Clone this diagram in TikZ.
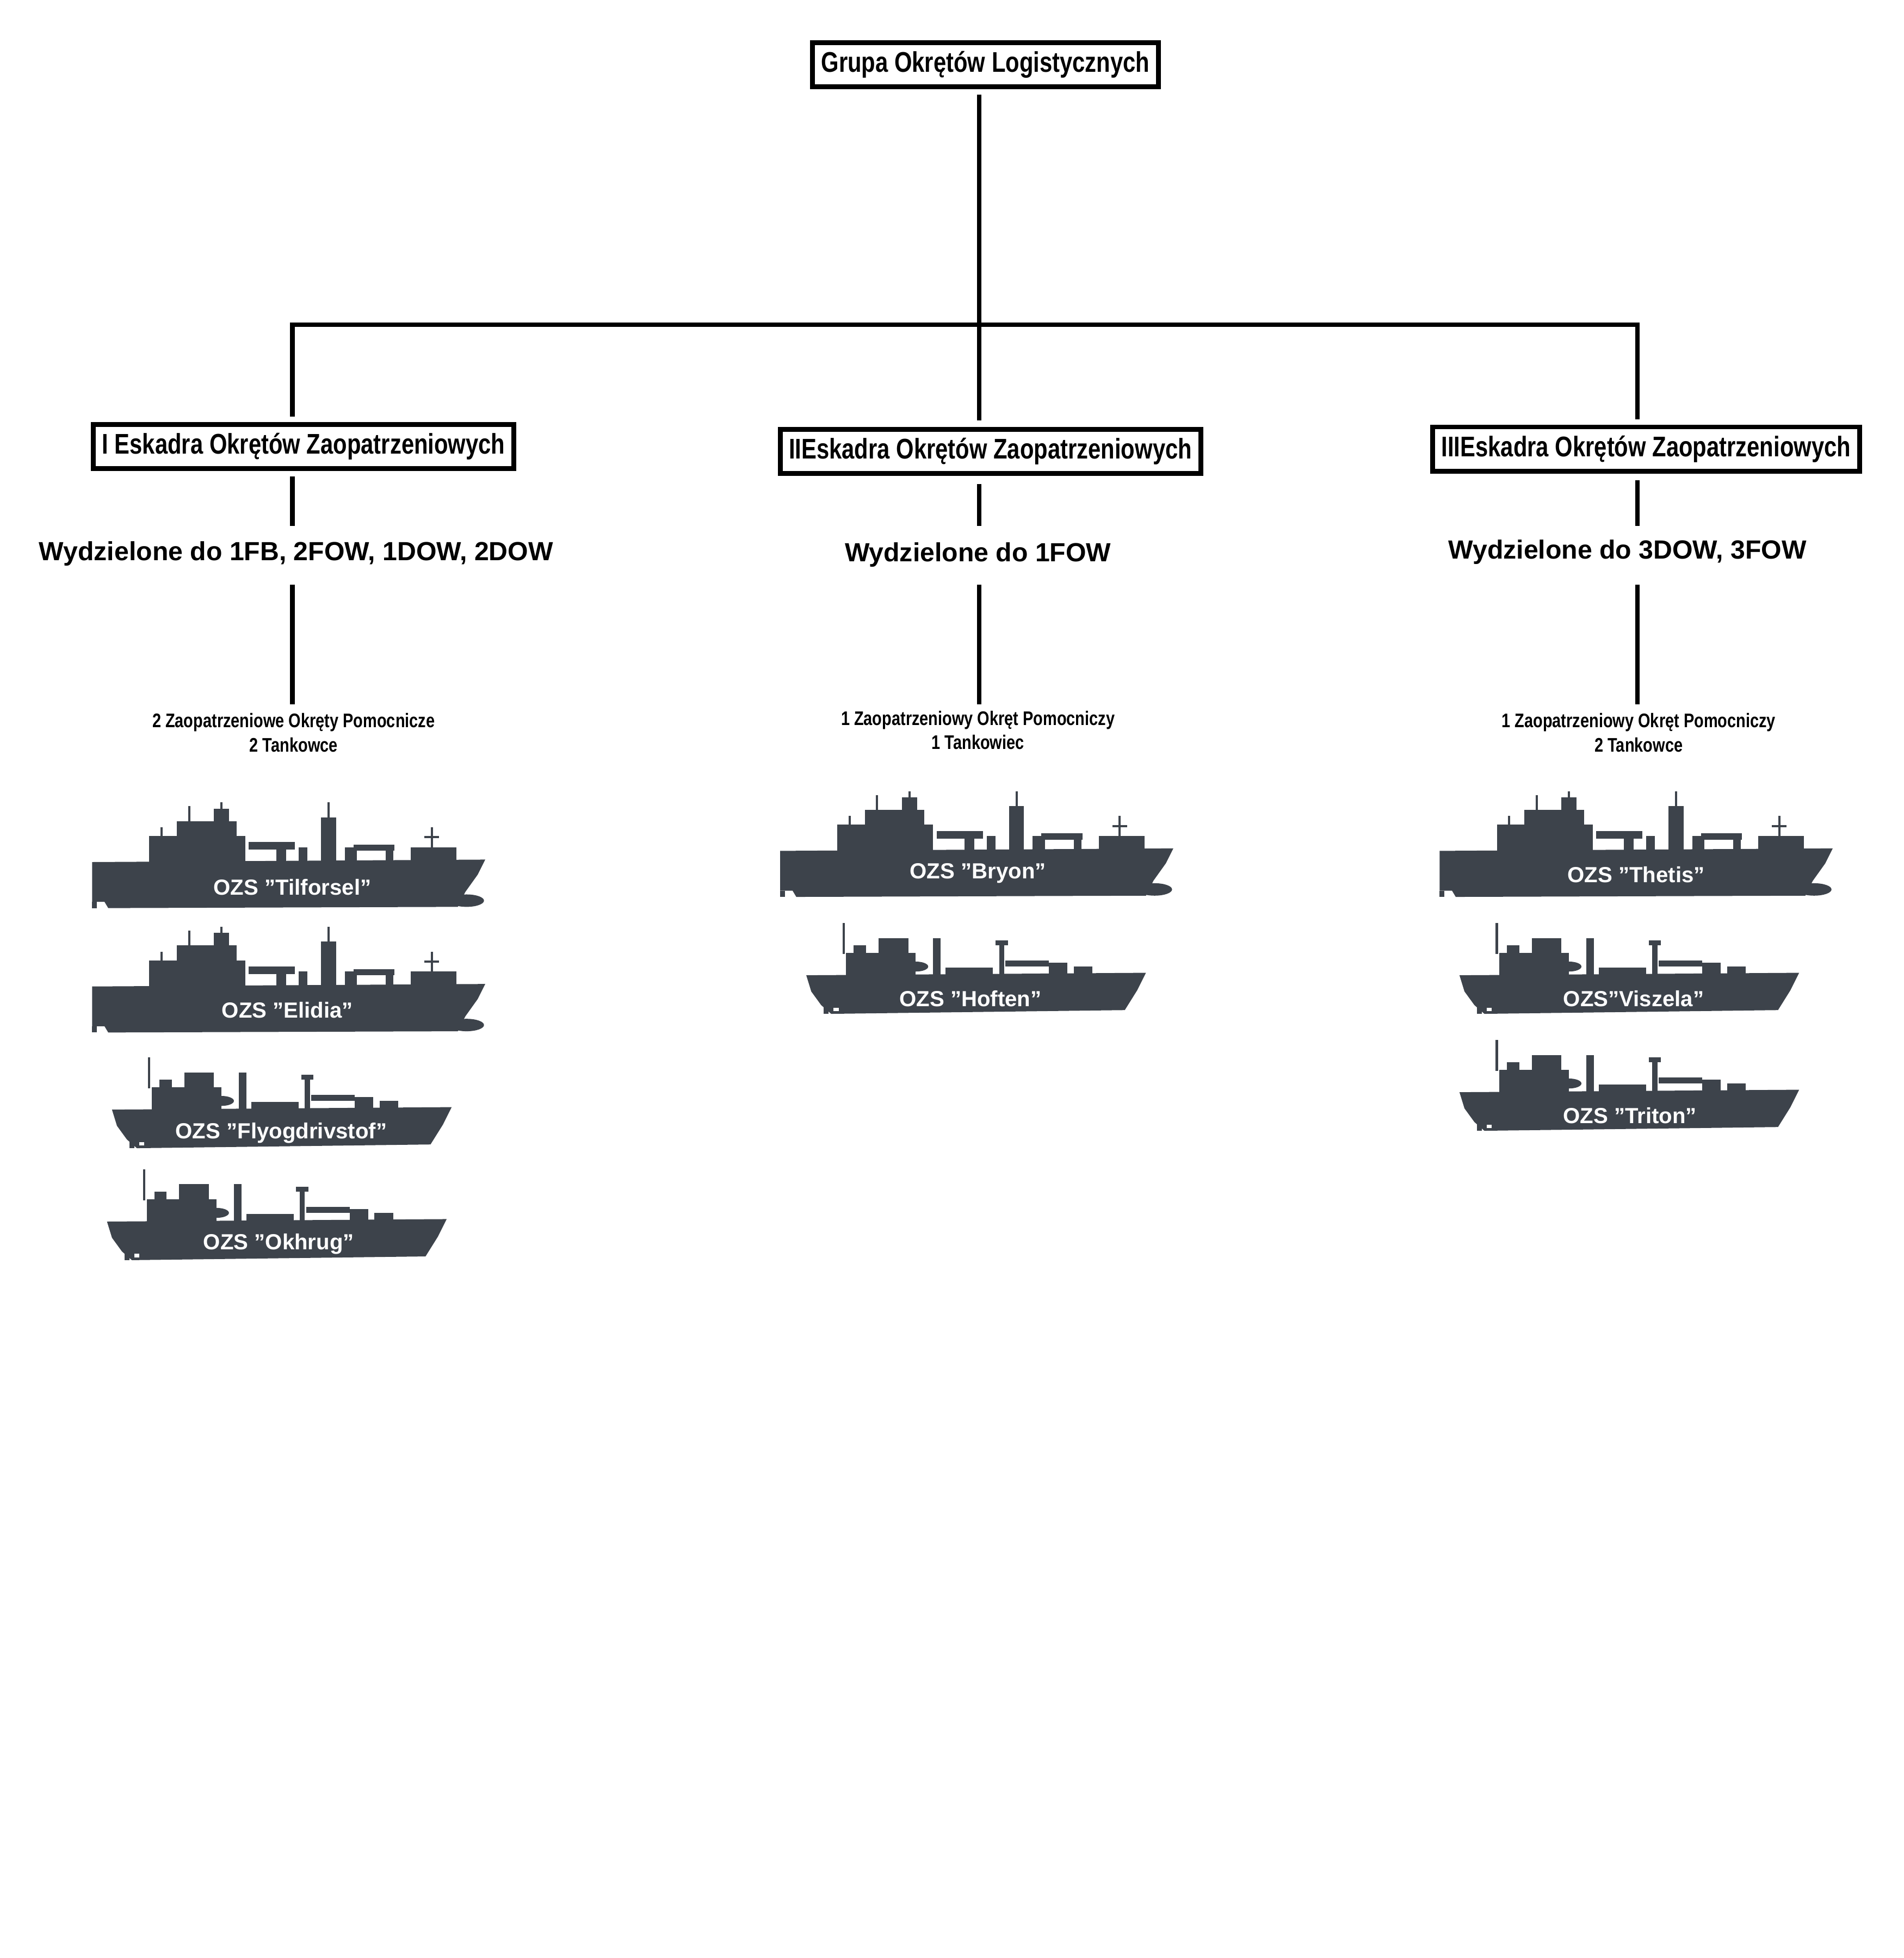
\documentclass[tikz,border=0pt]{standalone}
\usepackage{fontspec}
\setmainfont{Liberation Sans}
\newfontfamily\narrow{Liberation Sans}[FakeStretch=0.8]
\definecolor{ship}{HTML}{3D434B}
\begin{document}
\begin{tikzpicture}[x=0.02cm,y=-0.02cm,
 box/.style={draw,line width=2.2pt,font=\narrow\bfseries\fontsize{13}{15}\selectfont,inner sep=4pt},
 ln/.style={line width=2pt},
 wd/.style={font=\bfseries\fontsize{12}{14}\selectfont},
 sm/.style={font=\narrow\bfseries\fontsize{9}{11}\selectfont,align=center},
 lab/.style={font=\bfseries\fontsize{10}{12}\selectfont,text=white},
 aor/.pic={
  \fill[ship] (2,48)--(318,46)--(312,58)--(302,72)--(296,84)--(15,85)--(12,80)--(2,80)--cycle;
  \fill[ship] (303,79) ellipse (14 and 5);
  \fill[ship] (48,27) rectangle (125,49);
  \fill[ship] (70,15) rectangle (118,28);
  \fill[ship] (100,5) rectangle (112,16);
  \draw[ship,line width=1pt] (106,0)--(106,6) (80,3)--(80,16) (58,20)--(58,28);
  \fill[ship] (128,32) rectangle (165,38);
  \fill[ship] (150,38) rectangle (158,49);
  \fill[ship] (168,36) rectangle (175,49);
  \fill[ship] (186,12) rectangle (198,49);
  \draw[ship,line width=1pt] (192,0)--(192,13);
  \fill[ship] (205,36) rectangle (215,49);
  \fill[ship] (212,34) rectangle (245,39);
  \fill[ship] (238,39) rectangle (244,49);
  \fill[ship] (258,36) rectangle (295,49);
  \draw[ship,line width=1pt] (275,20)--(275,37) (269,28)--(281,28);
  \fill[ship] (2,80) rectangle (6,85);
 },
 tk/.pic={
  \fill[ship] (0,42)--(273,40)--(266,54)--(256,70)--(20,73)--(12,66)--(4,55)--cycle;
  \fill[ship] (32,24) rectangle (88,43);
  \fill[ship] (58,12) rectangle (82,25);
  \fill[ship] (38,18) rectangle (48,25);
  \draw[ship,line width=1pt] (30,0)--(30,25);
  \fill[ship] (102,12) rectangle (108,43);
  \fill[ship] (88,35) ellipse (10 and 4);
  \fill[ship] (112,36) rectangle (150,42);
  \fill[ship] (152,14) rectangle (162,18);
  \fill[ship] (155,18) rectangle (159,42);
  \fill[ship] (160,30) rectangle (195,35);
  \fill[ship] (195,32) rectangle (210,42);
  \fill[ship] (215,35) rectangle (230,42);
  \fill[ship] (14,66) rectangle (18,73);
  \fill[white] (22,68) rectangle (26,71);
 }]
\useasboundingbox (0,0) rectangle (1530,1574);
\node[box] (top) at (792,52) {Grupa Okrętów Logistycznych};
\node[box] (e1) at (244,359) {I Eskadra Okrętów Zaopatrzeniowych};
\node[box] (e2) at (796,363) {IIEskadra Okrętów Zaopatrzeniowych};
\node[box] (e3) at (1323,361) {IIIEskadra Okrętów Zaopatrzeniowych};
\coordinate (j) at (787,261);
\draw[ln] (787,76)--(787,338);
\draw[ln] (235,335)--(235,261)--(1316,261)--(1316,337);
\node[wd] (w1) at (238,445) {Wydzielone do 1FB, 2FOW, 1DOW, 2DOW};
\node[wd] (w2) at (786,446) {Wydzielone do 1FOW};
\node[wd] (w3) at (1308,444) {Wydzielone do 3DOW, 3FOW};
\draw[ln] (235,383)--(235,423) (235,470)--(235,566);
\draw[ln] (787,389)--(787,423) (787,470)--(787,566);
\draw[ln] (1316,386)--(1316,423) (1316,470)--(1316,566);
\node[sm] (s1) at (236,589) {2 Zaopatrzeniowe Okręty Pomocnicze\\2 Tankowce};
\node[sm] (s2) at (786,587) {1 Zaopatrzeniowy Okręt Pomocniczy\\1 Tankowiec};
\node[sm] (s3) at (1317,589) {1 Zaopatrzeniowy Okręt Pomocniczy\\2 Tankowce};
\pic at (72,645) {aor}; \node[lab] (n1) at (235,713) {OZS "Tilforsel"};
\pic at (72,745) {aor}; \node[lab] (n2) at (231,812) {OZS "Elidia"};
\pic at (90,850) {tk}; \node[lab] (n3) at (226,911) {OZS "Flyogdrivstof"};
\pic at (86,940) {tk}; \node[lab] (n4) at (224,1000) {OZS "Okhrug"};
\pic at (625,636) {aor}; \node[lab] (n5) at (786,702) {OZS "Bryon"};
\pic at (648,742) {tk}; \node[lab] (n6) at (780,803) {OZS "Hoften"};
\pic at (1155,636) {aor}; \node[lab] (n7) at (1315,703) {OZS "Thetis"};
\pic at (1173,742) {tk}; \node[lab] (n8) at (1313,803) {OZS"Viszela"};
\pic at (1173,836) {tk}; \node[lab] (n9) at (1310,897) {OZS "Triton"};
\end{tikzpicture}
\end{document}
